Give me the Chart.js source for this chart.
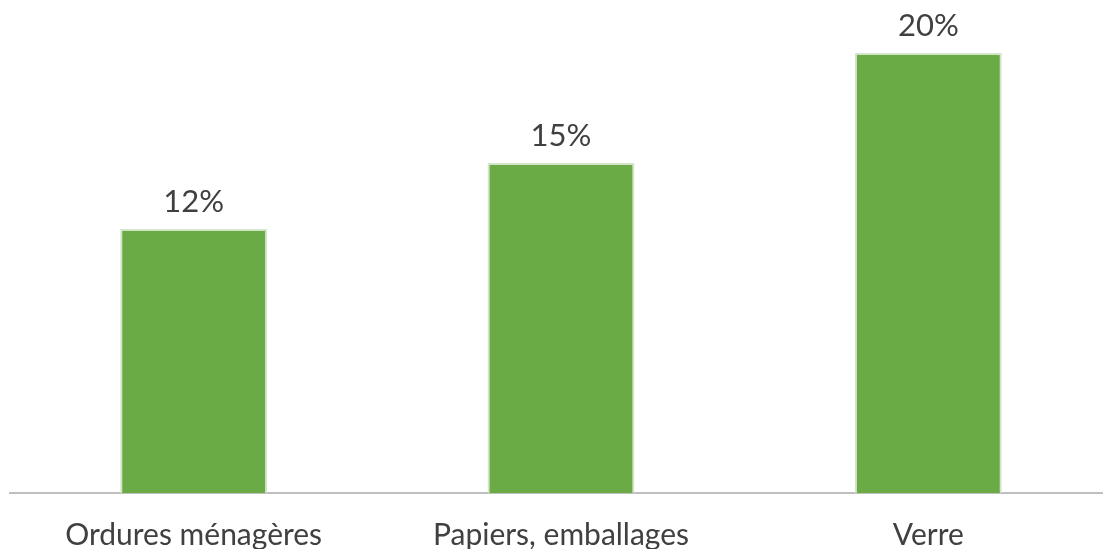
<!DOCTYPE html>
<html>
<head>
<meta charset="utf-8">
<script src="https://cdn.jsdelivr.net/npm/chart.js@4.4.1/dist/chart.umd.min.js"></script>
<style>
  html, body { margin: 0; padding: 0; background: #fff; overflow: hidden; }
  #wrap { width: 1112px; height: 549px; }
</style>
</head>
<body>
<div id="wrap"><canvas id="waste-bar-chart"></canvas></div>
<script>
// chart data
const categories = ['Ordures ménagères', 'Papiers, emballages', 'Verre'];
const shares = [12, 15, 20];   // percent
const yMax = 22;

const textColor = '#404040';
const fontName = 'Lato, "Open Sans", sans-serif';

// draws the "12%" labels on top of the bars
const valueLabels = {
  id: 'valueLabels',
  afterDatasetsDraw(chart) {
    const ctx = chart.ctx;
    const meta = chart.getDatasetMeta(0);
    ctx.save();
    ctx.fillStyle = textColor;
    ctx.font = '31px ' + fontName;
    ctx.textAlign = 'center';
    ctx.textBaseline = 'alphabetic';
    meta.data.forEach(function(bar, i) {
      ctx.fillText(shares[i] + '%', bar.x, bar.y - 17);
    });
    ctx.restore();
  }
};

const barCanvas = document.getElementById('waste-bar-chart');

new Chart(barCanvas, {
  type: 'bar',
  data: {
    labels: categories,
    datasets: [{
      data: shares,
      backgroundColor: '#6aab46',
      borderColor: '#d3e4cb',
      borderWidth: 2,
      borderSkipped: 'bottom',
      barPercentage: 0.4,
      categoryPercentage: 1
    }]
  },
  options: {
    responsive: true,
    maintainAspectRatio: false,
    animation: false,
    layout: { padding: { top: 9, left: 10, right: 0, bottom: 0 } },
    plugins: {
      legend: { display: false },
      tooltip: { enabled: false }
    },
    scales: {
      x: {
        grid: { display: false, drawTicks: false },
        border: { display: true, color: '#bfbfbf', width: 2 },
        ticks: {
          color: textColor,
          font: { family: fontName, size: 30 },
          padding: 24,
          maxRotation: 0
        },
        afterFit(scale) { scale.height = 56; }
      },
      y: {
        display: false,
        min: 0,
        max: yMax
      }
    }
  },
  plugins: [valueLabels]
});
</script>
</body>
</html>
